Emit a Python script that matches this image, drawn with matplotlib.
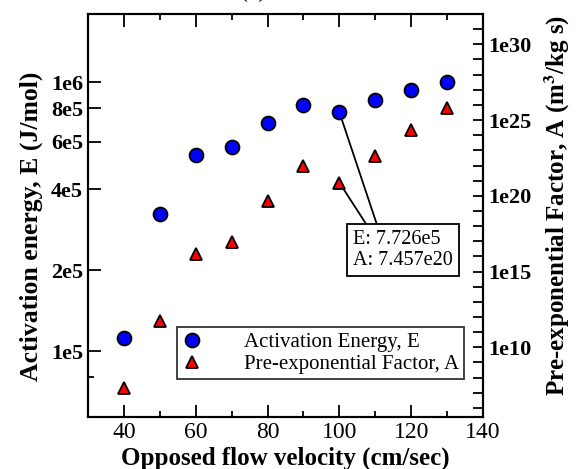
import numpy as np
import matplotlib
matplotlib.use("Agg")
import matplotlib.pyplot as plt
from matplotlib.ticker import FixedLocator, NullFormatter, LogLocator
from matplotlib.lines import Line2D

plt.rcParams['font.family'] = ['Liberation Serif', 'DejaVu Serif']
plt.rcParams['mathtext.fontset'] = 'stix'

# data
velocity = [40, 50, 60, 70, 80, 90, 100, 110, 120, 130]
energy = [1.12e5, 3.23e5, 5.35e5, 5.73e5, 7.04e5, 8.21e5, 7.726e5, 8.57e5, 9.34e5, 1.0e6]
prefactor = [2.2e7, 5.3e11, 1.4e16, 9.0e16, 4.7e19, 1.0e22, 7.457e20, 4.5e22, 2.3e24, 5.8e25]

e_ticks = [1e5, 2e5, 4e5, 6e5, 8e5, 1e6]
e_labels = ['1e5', '2e5', '4e5', '6e5', '8e5', '1e6']
a_ticks = [1e10, 1e15, 1e20, 1e25, 1e30]
a_labels = ['1e10', '1e15', '1e20', '1e25', '1e30']
x_ticks = [40, 60, 80, 100, 120, 140]

note_idx = 6
note_text = 'E: 7.726e5\nA: 7.457e20'

fig = plt.figure(figsize=(5.76, 4.69), dpi=100)
ax = fig.add_axes([88/576, 1 - 417/469, 395/576, 403/469])
ax2 = ax.twinx()

ax.set_xlim(30, 140)
ax.set_yscale('log')
ax.set_ylim(5.69e4, 1.79e6)
ax2.set_yscale('log')
ax2.set_ylim(10**5.4, 1e32)

ax.plot(velocity, energy, 'o', ms=10, mfc='#0000ff', mec='k', mew=1.3, zorder=3)
ax2.plot(velocity, prefactor, '^', ms=9, mfc='#ff0000', mec='k', mew=1.3, zorder=3)

# x axis
ax.xaxis.set_major_locator(FixedLocator(x_ticks))
ax.xaxis.set_minor_locator(FixedLocator(np.arange(30, 141, 10)))
ax.tick_params(axis='x', which='both', direction='in', top=True, labelsize=17)
ax.tick_params(axis='x', which='major', length=9, width=1.3)
ax.tick_params(axis='x', which='minor', length=4, width=1.3)

# left axis
ax.yaxis.set_major_locator(FixedLocator(e_ticks))
ax.yaxis.set_minor_locator(FixedLocator([8e4]))
ax.yaxis.set_minor_formatter(NullFormatter())
ax.set_yticklabels(e_labels, fontweight='bold')
ax.tick_params(axis='y', which='both', direction='in', right=False, labelsize=16)
ax.tick_params(axis='y', which='major', length=9, width=1.3)
ax.tick_params(axis='y', which='minor', length=4, width=1.3)

# right axis
ax2.yaxis.set_major_locator(FixedLocator(a_ticks))
ax2.yaxis.set_minor_locator(LogLocator(base=10, subs=(1.0,), numticks=100))
ax2.yaxis.set_minor_formatter(NullFormatter())
ax2.set_yticklabels(a_labels, fontweight='bold')
ax2.tick_params(axis='y', which='both', direction='in', length=7, width=1.3, labelsize=16)

for a in (ax, ax2):
    for s in a.spines.values():
        s.set_linewidth(1.5)

ax.set_xlabel('Opposed flow velocity (cm/sec)', fontsize=18, fontweight='bold', labelpad=3)
ax.set_ylabel('Activation energy, E (J/mol)', fontsize=18.5, fontweight='bold', labelpad=6)
ax.yaxis.label.set_y(0.474)
ax2.set_ylabel(r'Pre-exponential Factor, A (m$^\mathbf{3}$/kg s)', fontsize=18,
               fontweight='bold', labelpad=8)
ax2.yaxis.label.set_y(0.526)

# callout
ax2.text(0.672, 0.463, note_text, transform=ax.transAxes, fontsize=14.5, va='top', ha='left',
         linespacing=1.1,
         bbox=dict(boxstyle='square,pad=0.3', fc='white', ec='k', lw=1.3), zorder=5)
ax2.annotate('', xy=(velocity[note_idx], energy[note_idx]), xycoords=ax.transData,
             xytext=(0.732, 0.476), textcoords='axes fraction',
             arrowprops=dict(arrowstyle='-', color='k', lw=1.3, shrinkA=0, shrinkB=6))
ax2.annotate('', xy=(velocity[note_idx], prefactor[note_idx]), xycoords='data',
             xytext=(0.706, 0.476), textcoords='axes fraction',
             arrowprops=dict(arrowstyle='-', color='k', lw=1.3, shrinkA=0, shrinkB=6))

handles = [Line2D([], [], ls='', marker='o', ms=10, mfc='#0000ff', mec='k', mew=1.3),
           Line2D([], [], ls='', marker='^', ms=9, mfc='#ff0000', mec='k', mew=1.3)]
leg = ax2.legend(handles, ['Activation Energy, E', 'Pre-exponential Factor, A'],
                 loc='lower left', bbox_to_anchor=(0.225, 0.094), borderaxespad=0,
                 fontsize=15, frameon=True, fancybox=False, handlelength=1.0,
                 handletextpad=1.95, borderpad=0.25, labelspacing=0.1)
leg.get_frame().set_edgecolor('k')
leg.get_frame().set_linewidth(1.3)

# panel title sits mostly above the top edge, as in the source image
fig.text(0.44, 1 + 3/469, '(a)', fontsize=17, ha='center', va='baseline')

fig.savefig('out.png', dpi=100)
